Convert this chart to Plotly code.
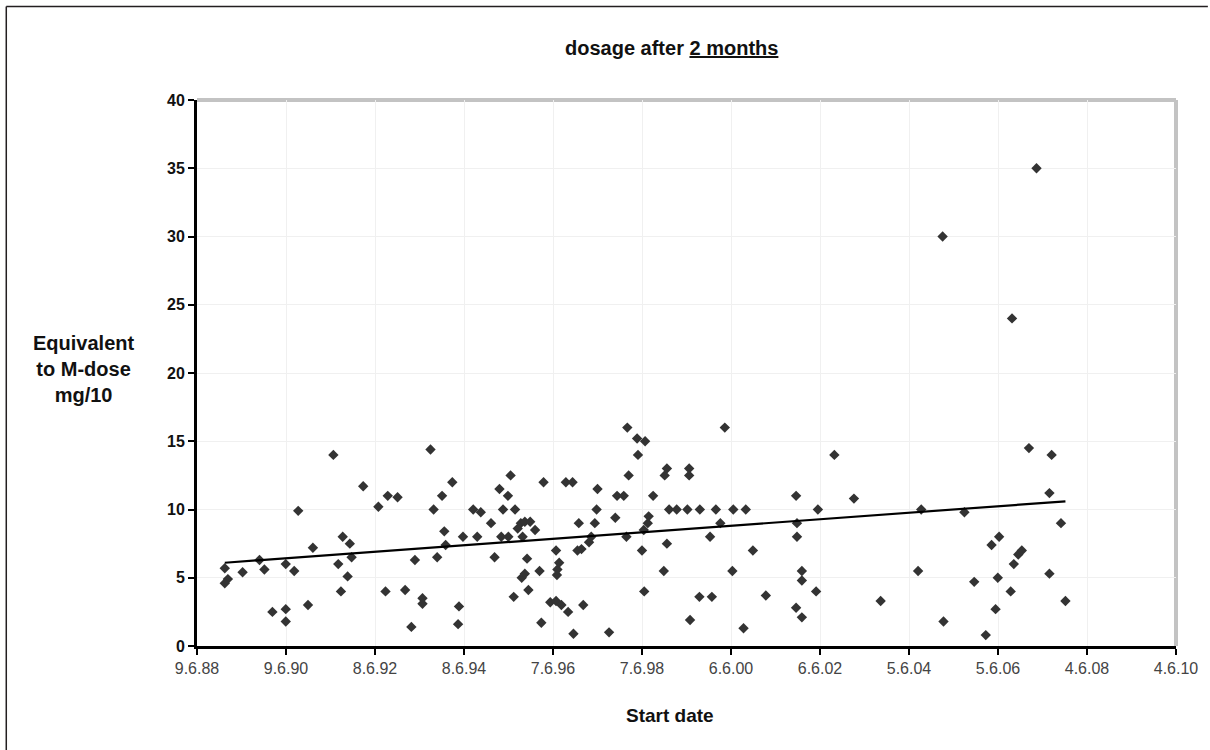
import pandas as pd
import plotly.graph_objects as go

# ---- data ----
start_year = [
    1989.06, 1989.13, 1989.06, 1989.46, 1989.84, 1989.95, 1990.13, 1990.43, 1990.43, 1990.43,
    1990.62, 1990.71, 1990.93, 1991.04, 1991.50, 1991.61, 1991.67, 1991.71, 1991.82, 1991.87,
    1991.91, 1992.17, 1992.51, 1992.67, 1992.72, 1992.94, 1993.11, 1993.25, 1993.33, 1993.50,
    1993.50, 1993.68, 1993.75, 1993.83, 1993.94, 1993.99, 1994.02, 1994.17, 1994.32, 1994.30,
    1994.41, 1994.64, 1994.73, 1994.81, 1995.04, 1995.12, 1995.23, 1995.27, 1995.31, 1995.42,
    1995.43, 1995.48, 1995.55, 1995.58, 1995.64, 1995.71, 1995.75, 1995.73, 1995.80, 1995.80,
    1995.85, 1995.88, 1995.92, 1996.03, 1996.13, 1996.17, 1996.22, 1996.37, 1996.50, 1996.52,
    1996.53, 1996.57, 1996.50, 1996.62, 1996.72, 1996.77, 1996.87, 1996.89, 1996.98, 1997.01,
    1997.07, 1997.11, 1997.24, 1997.29, 1997.37, 1997.41, 1997.43, 1997.69, 1997.83, 1997.87,
    1998.02, 1998.08, 1998.10, 1998.13, 1998.32, 1998.34, 1998.50, 1998.43, 1998.47, 1998.48,
    1998.56, 1998.58, 1998.68, 1998.92, 1998.94, 1998.99, 1998.99, 1999.04, 1999.21, 1999.45,
    1999.49, 1999.49, 1999.51, 1999.73, 1999.72, 2000.09, 2000.00, 1999.96, 2000.19, 2000.29,
    2000.48, 2000.46, 2000.71, 2000.76, 2000.92, 2001.21, 2001.89, 2001.91, 2001.91, 2002.02,
    2002.02, 2001.89, 2002.02, 2002.34, 2002.38, 2002.75, 2003.19, 2003.79, 2004.63, 2004.70,
    2005.20, 2007.29, 2005.18, 2006.74, 2005.67, 2005.89, 2006.15, 2006.28, 2006.45, 2006.42,
    2006.37, 2006.71, 2006.78, 2006.88, 2006.96, 2007.12, 2007.58, 2007.63, 2007.58, 2007.84,
    2007.94,
]
dose = [
    5.7, 4.9, 4.6, 5.4, 6.3, 5.6, 2.5, 6.0, 2.7, 1.8,
    5.5, 9.9, 3.0, 7.2, 14.0, 6.0, 4.0, 8.0, 5.1, 7.5,
    6.5, 11.7, 10.2, 4.0, 11.0, 10.9, 4.1, 1.4, 6.3, 3.5,
    3.1, 14.4, 10.0, 6.5, 11.0, 8.4, 7.4, 12.0, 2.9, 1.6,
    8.0, 10.0, 8.0, 9.8, 9.0, 6.5, 11.5, 8.0, 10.0, 11.0,
    8.0, 12.5, 3.6, 10.0, 8.6, 9.0, 8.0, 5.0, 9.1, 5.3,
    6.4, 4.1, 9.1, 8.5, 5.5, 1.7, 12.0, 3.2, 7.0, 5.2,
    5.6, 6.1, 3.3, 3.0, 12.0, 2.5, 12.0, 0.9, 7.0, 9.0,
    7.1, 3.0, 7.6, 8.0, 9.0, 10.0, 11.5, 1.0, 9.4, 11.0,
    11.0, 8.0, 16.0, 12.5, 15.2, 14.0, 15.0, 7.0, 8.5, 4.0,
    9.0, 9.5, 11.0, 5.5, 12.5, 13.0, 7.5, 10.0, 10.0, 10.0,
    13.0, 12.5, 1.9, 10.0, 3.6, 10.0, 3.6, 8.0, 9.0, 16.0,
    10.0, 5.5, 1.3, 10.0, 7.0, 3.7, 11.0, 9.0, 8.0, 5.5,
    4.8, 2.8, 2.1, 4.0, 10.0, 14.0, 10.8, 3.3, 5.5, 10.0,
    1.8, 35.0, 30.0, 24.0, 9.8, 4.7, 0.8, 7.4, 8.0, 5.0,
    2.7, 4.0, 6.0, 6.7, 7.0, 14.5, 11.2, 14.0, 5.3, 9.0,
    3.3,
]
# linear trend line as drawn in the reference (value at first and last start date)
trend_year = [1989.06, 2007.94]
trend_value = [6.1, 10.6]

tick_dates = ["1988-06-09", "1990-06-09", "1992-06-08", "1994-06-08", "1996-06-07", "1998-06-07",
              "2000-06-06", "2002-06-06", "2004-06-05", "2006-06-05", "2008-06-04", "2010-06-04"]
tick_labels = ["9.6.88", "9.6.90", "8.6.92", "8.6.94", "7.6.96", "7.6.98",
               "6.6.00", "6.6.02", "5.6.04", "5.6.06", "4.6.08", "4.6.10"]
y_ticks = [0, 5, 10, 15, 20, 25, 30, 35, 40]


def year_to_date(y):
    yr = int(y)
    start = pd.Timestamp(yr, 1, 1)
    days = (pd.Timestamp(yr + 1, 1, 1) - start).days
    return start + pd.Timedelta(days=(y - yr) * days)


dates = [year_to_date(v) for v in start_year]
trend_dates = [year_to_date(v) for v in trend_year]

FONT = "Liberation Sans, Arial, Helvetica, sans-serif"

fig = go.Figure()
fig.add_trace(go.Scatter(
    x=dates, y=dose, mode="markers",
    marker=dict(symbol="diamond", size=8, color="#333333", line=dict(width=0)),
    showlegend=False, hoverinfo="x+y",
))
fig.add_trace(go.Scatter(
    x=trend_dates, y=trend_value, mode="lines",
    line=dict(color="black", width=2.2), showlegend=False, hoverinfo="skip",
))

W, H = 1210, 750
ml, mr, mt, mb = 197, 30, 100, 104
pw, ph = W - ml - mr, H - mt - mb


def px(x):
    return (x - ml) / pw


def py(y):
    return (H - mb - y) / ph


shapes = [
    # grey plot-area frame (top and right)
    dict(type="line", xref="paper", yref="paper", x0=0, x1=1, y0=1, y1=1,
         line=dict(color="#c3c3c3", width=4), layer="below"),
    dict(type="line", xref="paper", yref="paper", x0=1, x1=1, y0=0, y1=1,
         line=dict(color="#c3c3c3", width=4), layer="below"),
    # outer chart border (top and left visible)
    dict(type="line", xref="paper", yref="paper", x0=px(5.5), x1=px(1212), y0=py(6.5), y1=py(6.5),
         line=dict(color="#231f20", width=1.5)),
    dict(type="line", xref="paper", yref="paper", x0=px(5.5), x1=px(5.5), y0=py(6.5), y1=py(752),
         line=dict(color="#231f20", width=1.5)),
]

annotations = [
    dict(text="<b>Equivalent<br>to M-dose<br>mg/10</b>", xref="paper", yref="paper",
         x=px(83), y=py(369), xanchor="center", yanchor="middle", showarrow=False,
         align="center", font=dict(family=FONT, size=20, color="#111111")),
    dict(text="<b>Start date</b>", xref="paper", yref="paper",
         x=px(672), y=py(715), xanchor="center", yanchor="middle", showarrow=False,
         font=dict(family=FONT, size=19, color="#111111")),
    dict(text="<b>dosage after <u>2 months</u></b>", xref="paper", yref="paper",
         x=px(673), y=py(48), xanchor="center", yanchor="middle", showarrow=False,
         font=dict(family=FONT, size=20, color="#111111")),
]

fig.update_layout(
    width=W, height=H,
    margin=dict(l=ml, r=mr, t=mt, b=mb, pad=0),
    paper_bgcolor="white", plot_bgcolor="white",
    font=dict(family=FONT, color="#222222"),
    shapes=shapes, annotations=annotations,
    xaxis=dict(
        type="date", range=[tick_dates[0], tick_dates[-1]],
        tickmode="array", tickvals=tick_dates, ticktext=tick_labels,
        showline=True, linecolor="black", linewidth=3,
        ticks="outside", ticklen=6, tickwidth=2, tickcolor="black",
        showgrid=True, gridcolor="#f0f0f0", gridwidth=1, zeroline=False,
        tickfont=dict(size=16, color="#444444", family=FONT),
    ),
    yaxis=dict(
        range=[0, 40], tickmode="array", tickvals=y_ticks,
        showline=True, linecolor="black", linewidth=3,
        ticks="outside", ticklen=6, tickwidth=2, tickcolor="black",
        showgrid=True, gridcolor="#f0f0f0", gridwidth=1, zeroline=False,
        tickfont=dict(size=16, color="#111111", family=FONT, weight="bold"),
    ),
)

fig.write_html(
    "out.html",
    config={"displayModeBar": False},
    post_script="document.body.style.margin='0px';document.body.style.overflow='hidden';",
)
